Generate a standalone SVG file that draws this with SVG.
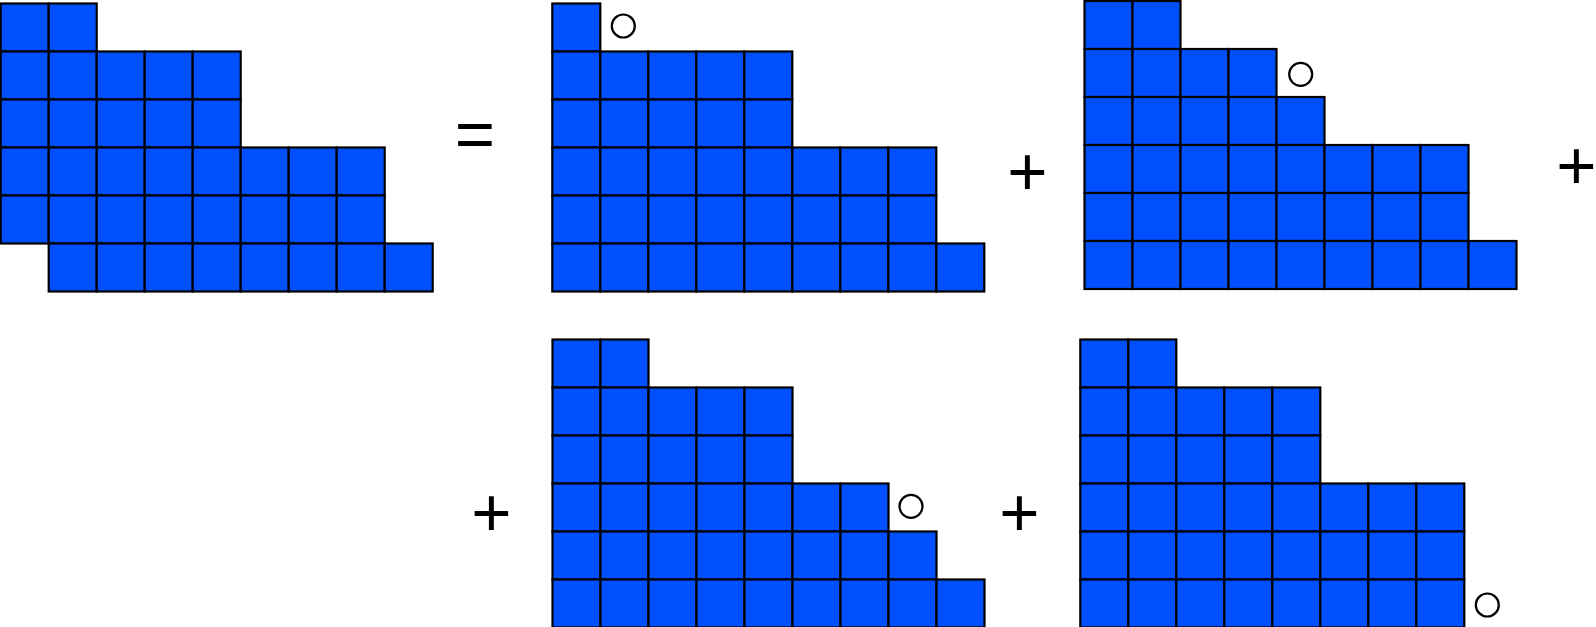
<svg xmlns="http://www.w3.org/2000/svg" width="1596" height="627" viewBox="0 0 1596 627">
<style>
.c{fill:#0050ff;stroke:#000;stroke-width:2.2}
.o{fill:none;stroke:#000;stroke-width:2.2}
.op{font-family:"Liberation Sans",Arial,sans-serif;font-size:69px;fill:#000;text-anchor:middle}
</style>
<rect width="1596" height="627" fill="#fff"/>
<g id="d0" transform="translate(0.7,3.5)">
<rect class="c" x="0" y="0" width="48" height="48"/><rect class="c" x="48" y="0" width="48" height="48"/>
<rect class="c" x="0" y="48" width="48" height="48"/><rect class="c" x="48" y="48" width="48" height="48"/><rect class="c" x="96" y="48" width="48" height="48"/><rect class="c" x="144" y="48" width="48" height="48"/><rect class="c" x="192" y="48" width="48" height="48"/>
<rect class="c" x="0" y="96" width="48" height="48"/><rect class="c" x="48" y="96" width="48" height="48"/><rect class="c" x="96" y="96" width="48" height="48"/><rect class="c" x="144" y="96" width="48" height="48"/><rect class="c" x="192" y="96" width="48" height="48"/>
<rect class="c" x="0" y="144" width="48" height="48"/><rect class="c" x="48" y="144" width="48" height="48"/><rect class="c" x="96" y="144" width="48" height="48"/><rect class="c" x="144" y="144" width="48" height="48"/><rect class="c" x="192" y="144" width="48" height="48"/><rect class="c" x="240" y="144" width="48" height="48"/><rect class="c" x="288" y="144" width="48" height="48"/><rect class="c" x="336" y="144" width="48" height="48"/>
<rect class="c" x="0" y="192" width="48" height="48"/><rect class="c" x="48" y="192" width="48" height="48"/><rect class="c" x="96" y="192" width="48" height="48"/><rect class="c" x="144" y="192" width="48" height="48"/><rect class="c" x="192" y="192" width="48" height="48"/><rect class="c" x="240" y="192" width="48" height="48"/><rect class="c" x="288" y="192" width="48" height="48"/><rect class="c" x="336" y="192" width="48" height="48"/>
<rect class="c" x="48" y="240" width="48" height="48"/><rect class="c" x="96" y="240" width="48" height="48"/><rect class="c" x="144" y="240" width="48" height="48"/><rect class="c" x="192" y="240" width="48" height="48"/><rect class="c" x="240" y="240" width="48" height="48"/><rect class="c" x="288" y="240" width="48" height="48"/><rect class="c" x="336" y="240" width="48" height="48"/><rect class="c" x="384" y="240" width="48" height="48"/>
</g>
<g id="d1" transform="translate(552.3,3.5)">
<rect class="c" x="0" y="0" width="48" height="48"/>
<rect class="c" x="0" y="48" width="48" height="48"/><rect class="c" x="48" y="48" width="48" height="48"/><rect class="c" x="96" y="48" width="48" height="48"/><rect class="c" x="144" y="48" width="48" height="48"/><rect class="c" x="192" y="48" width="48" height="48"/>
<rect class="c" x="0" y="96" width="48" height="48"/><rect class="c" x="48" y="96" width="48" height="48"/><rect class="c" x="96" y="96" width="48" height="48"/><rect class="c" x="144" y="96" width="48" height="48"/><rect class="c" x="192" y="96" width="48" height="48"/>
<rect class="c" x="0" y="144" width="48" height="48"/><rect class="c" x="48" y="144" width="48" height="48"/><rect class="c" x="96" y="144" width="48" height="48"/><rect class="c" x="144" y="144" width="48" height="48"/><rect class="c" x="192" y="144" width="48" height="48"/><rect class="c" x="240" y="144" width="48" height="48"/><rect class="c" x="288" y="144" width="48" height="48"/><rect class="c" x="336" y="144" width="48" height="48"/>
<rect class="c" x="0" y="192" width="48" height="48"/><rect class="c" x="48" y="192" width="48" height="48"/><rect class="c" x="96" y="192" width="48" height="48"/><rect class="c" x="144" y="192" width="48" height="48"/><rect class="c" x="192" y="192" width="48" height="48"/><rect class="c" x="240" y="192" width="48" height="48"/><rect class="c" x="288" y="192" width="48" height="48"/><rect class="c" x="336" y="192" width="48" height="48"/>
<rect class="c" x="0" y="240" width="48" height="48"/><rect class="c" x="48" y="240" width="48" height="48"/><rect class="c" x="96" y="240" width="48" height="48"/><rect class="c" x="144" y="240" width="48" height="48"/><rect class="c" x="192" y="240" width="48" height="48"/><rect class="c" x="240" y="240" width="48" height="48"/><rect class="c" x="288" y="240" width="48" height="48"/><rect class="c" x="336" y="240" width="48" height="48"/><rect class="c" x="384" y="240" width="48" height="48"/>
<circle class="o" cx="71" cy="22.5" r="11.5"/>
</g>
<g id="d2" transform="translate(1084.5,1)">
<rect class="c" x="0" y="0" width="48" height="48"/><rect class="c" x="48" y="0" width="48" height="48"/>
<rect class="c" x="0" y="48" width="48" height="48"/><rect class="c" x="48" y="48" width="48" height="48"/><rect class="c" x="96" y="48" width="48" height="48"/><rect class="c" x="144" y="48" width="48" height="48"/>
<rect class="c" x="0" y="96" width="48" height="48"/><rect class="c" x="48" y="96" width="48" height="48"/><rect class="c" x="96" y="96" width="48" height="48"/><rect class="c" x="144" y="96" width="48" height="48"/><rect class="c" x="192" y="96" width="48" height="48"/>
<rect class="c" x="0" y="144" width="48" height="48"/><rect class="c" x="48" y="144" width="48" height="48"/><rect class="c" x="96" y="144" width="48" height="48"/><rect class="c" x="144" y="144" width="48" height="48"/><rect class="c" x="192" y="144" width="48" height="48"/><rect class="c" x="240" y="144" width="48" height="48"/><rect class="c" x="288" y="144" width="48" height="48"/><rect class="c" x="336" y="144" width="48" height="48"/>
<rect class="c" x="0" y="192" width="48" height="48"/><rect class="c" x="48" y="192" width="48" height="48"/><rect class="c" x="96" y="192" width="48" height="48"/><rect class="c" x="144" y="192" width="48" height="48"/><rect class="c" x="192" y="192" width="48" height="48"/><rect class="c" x="240" y="192" width="48" height="48"/><rect class="c" x="288" y="192" width="48" height="48"/><rect class="c" x="336" y="192" width="48" height="48"/>
<rect class="c" x="0" y="240" width="48" height="48"/><rect class="c" x="48" y="240" width="48" height="48"/><rect class="c" x="96" y="240" width="48" height="48"/><rect class="c" x="144" y="240" width="48" height="48"/><rect class="c" x="192" y="240" width="48" height="48"/><rect class="c" x="240" y="240" width="48" height="48"/><rect class="c" x="288" y="240" width="48" height="48"/><rect class="c" x="336" y="240" width="48" height="48"/><rect class="c" x="384" y="240" width="48" height="48"/>
<circle class="o" cx="216.2" cy="73.3" r="11.5"/>
</g>
<g id="d3" transform="translate(552.5,339.5)">
<rect class="c" x="0" y="0" width="48" height="48"/><rect class="c" x="48" y="0" width="48" height="48"/>
<rect class="c" x="0" y="48" width="48" height="48"/><rect class="c" x="48" y="48" width="48" height="48"/><rect class="c" x="96" y="48" width="48" height="48"/><rect class="c" x="144" y="48" width="48" height="48"/><rect class="c" x="192" y="48" width="48" height="48"/>
<rect class="c" x="0" y="96" width="48" height="48"/><rect class="c" x="48" y="96" width="48" height="48"/><rect class="c" x="96" y="96" width="48" height="48"/><rect class="c" x="144" y="96" width="48" height="48"/><rect class="c" x="192" y="96" width="48" height="48"/>
<rect class="c" x="0" y="144" width="48" height="48"/><rect class="c" x="48" y="144" width="48" height="48"/><rect class="c" x="96" y="144" width="48" height="48"/><rect class="c" x="144" y="144" width="48" height="48"/><rect class="c" x="192" y="144" width="48" height="48"/><rect class="c" x="240" y="144" width="48" height="48"/><rect class="c" x="288" y="144" width="48" height="48"/>
<rect class="c" x="0" y="192" width="48" height="48"/><rect class="c" x="48" y="192" width="48" height="48"/><rect class="c" x="96" y="192" width="48" height="48"/><rect class="c" x="144" y="192" width="48" height="48"/><rect class="c" x="192" y="192" width="48" height="48"/><rect class="c" x="240" y="192" width="48" height="48"/><rect class="c" x="288" y="192" width="48" height="48"/><rect class="c" x="336" y="192" width="48" height="48"/>
<rect class="c" x="0" y="240" width="48" height="48"/><rect class="c" x="48" y="240" width="48" height="48"/><rect class="c" x="96" y="240" width="48" height="48"/><rect class="c" x="144" y="240" width="48" height="48"/><rect class="c" x="192" y="240" width="48" height="48"/><rect class="c" x="240" y="240" width="48" height="48"/><rect class="c" x="288" y="240" width="48" height="48"/><rect class="c" x="336" y="240" width="48" height="48"/><rect class="c" x="384" y="240" width="48" height="48"/>
<circle class="o" cx="358.5" cy="166.8" r="11.5"/>
</g>
<g id="d4" transform="translate(1080.3,339.5)">
<rect class="c" x="0" y="0" width="48" height="48"/><rect class="c" x="48" y="0" width="48" height="48"/>
<rect class="c" x="0" y="48" width="48" height="48"/><rect class="c" x="48" y="48" width="48" height="48"/><rect class="c" x="96" y="48" width="48" height="48"/><rect class="c" x="144" y="48" width="48" height="48"/><rect class="c" x="192" y="48" width="48" height="48"/>
<rect class="c" x="0" y="96" width="48" height="48"/><rect class="c" x="48" y="96" width="48" height="48"/><rect class="c" x="96" y="96" width="48" height="48"/><rect class="c" x="144" y="96" width="48" height="48"/><rect class="c" x="192" y="96" width="48" height="48"/>
<rect class="c" x="0" y="144" width="48" height="48"/><rect class="c" x="48" y="144" width="48" height="48"/><rect class="c" x="96" y="144" width="48" height="48"/><rect class="c" x="144" y="144" width="48" height="48"/><rect class="c" x="192" y="144" width="48" height="48"/><rect class="c" x="240" y="144" width="48" height="48"/><rect class="c" x="288" y="144" width="48" height="48"/><rect class="c" x="336" y="144" width="48" height="48"/>
<rect class="c" x="0" y="192" width="48" height="48"/><rect class="c" x="48" y="192" width="48" height="48"/><rect class="c" x="96" y="192" width="48" height="48"/><rect class="c" x="144" y="192" width="48" height="48"/><rect class="c" x="192" y="192" width="48" height="48"/><rect class="c" x="240" y="192" width="48" height="48"/><rect class="c" x="288" y="192" width="48" height="48"/><rect class="c" x="336" y="192" width="48" height="48"/>
<rect class="c" x="0" y="240" width="48" height="48"/><rect class="c" x="48" y="240" width="48" height="48"/><rect class="c" x="96" y="240" width="48" height="48"/><rect class="c" x="144" y="240" width="48" height="48"/><rect class="c" x="192" y="240" width="48" height="48"/><rect class="c" x="240" y="240" width="48" height="48"/><rect class="c" x="288" y="240" width="48" height="48"/><rect class="c" x="336" y="240" width="48" height="48"/>
<circle class="o" cx="407" cy="265.5" r="11.5"/>
</g>
<g id="operators">
<text class="op" x="475" y="157.9">=</text>
<text class="op" x="1027.3" y="194.6">+</text>
<text class="op" x="1576.3" y="188.8">+</text>
<text class="op" x="491.3" y="535.6">+</text>
<text class="op" x="1019.3" y="535.6">+</text>
</g>
</svg>
